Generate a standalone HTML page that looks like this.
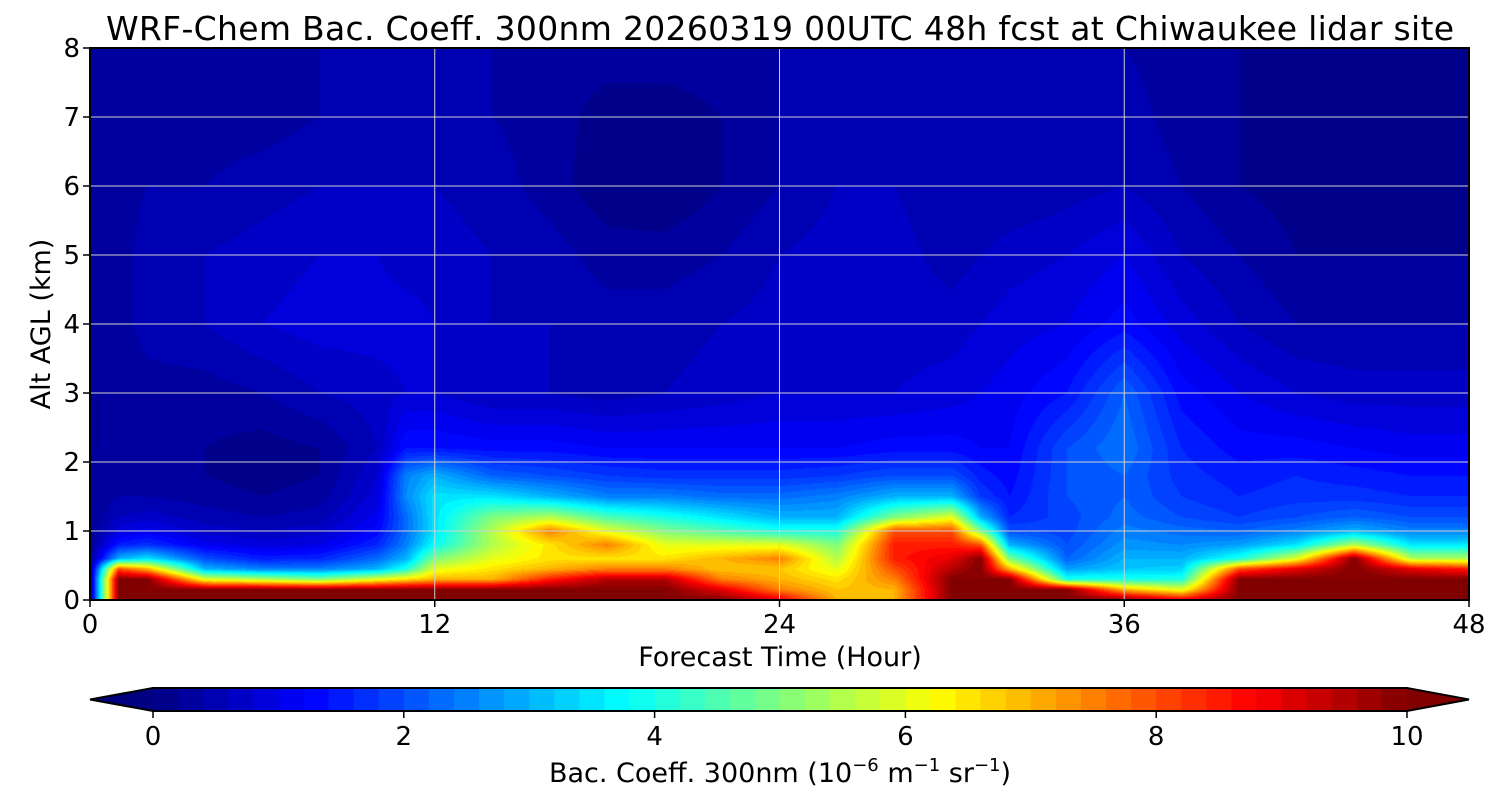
<!DOCTYPE html>
<html><head><meta charset="utf-8">
<style>
body{margin:0;background:#fff;width:1500px;height:800px;overflow:hidden;position:relative;font-family:"Liberation Sans","DejaVu Sans",sans-serif}
#plot{position:absolute;left:90px;top:48px}
#ov{position:absolute;left:0;top:0}
text{font-family:"DejaVu Sans","Liberation Sans",sans-serif;fill:#000}
</style></head><body>
<canvas id="plot" width="1379" height="552"></canvas>
<svg id="ov" width="1500" height="800">
<text x="780" y="40" font-size="33" text-anchor="middle" textLength="1348">WRF-Chem Bac. Coeff. 300nm  20260319 00UTC 48h fcst at Chiwaukee lidar site</text>
<g id="grid"></g>
<rect x="90" y="48" width="1379" height="552" fill="none" stroke="#000" stroke-width="2"/>
<g id="xt"></g>
<g id="yt"></g>
<text x="780" y="666" font-size="27" text-anchor="middle">Forecast Time (Hour)</text>
<text transform="translate(50,324) rotate(-90)" font-size="27" text-anchor="middle">Alt AGL (km)</text>
<g id="cb"></g>
<text x="780" y="782" font-size="27" text-anchor="middle">Bac. Coeff. 300nm  (10<tspan dy="-11" font-size="18">−6</tspan><tspan dy="11"> m</tspan><tspan dy="-11" font-size="18">−1</tspan><tspan dy="11"> sr</tspan><tspan dy="-11" font-size="18">−1</tspan><tspan dy="11">)</tspan></text>
</svg>
<script>
const times=[0,1,2,4,6,8,10,11,12,14,16,18,20,22,24,26,28,30,31,32,34,36,38,40,42,44,46,48];
const alts=[0,0.15,0.3,0.45,0.6,0.8,1.0,1.2,1.5,1.8,2.2,3,4,5,6,7,8];
const profiles=[
[0.2,0.2,0.2,0.2,0.2,0.2,0.2,0.2,0.2,0.2,0.2,0.2,0.2,0.2,0.2,0.2,0.2],
[10,10,10,8,3,1.5,0.9,0.6,0.4,0.3,0.2,0.2,0.3,0.3,0.3,0.3,0.3],
[10,10,10,7,3.5,1.7,1.1,0.7,0.4,0.3,0.2,0.3,0.5,0.5,0.4,0.4,0.4],
[10,10,6,3,2,1.1,0.7,0.5,0.3,0.2,0.2,0.3,0.6,0.6,0.4,0.3,0.3],
[10,10,5.5,2.5,1.5,0.9,0.6,0.4,0.2,0.1,0.1,0.4,0.8,0.7,0.5,0.3,0.3],
[10,10,5,2.5,1.6,1.0,0.7,0.5,0.3,0.2,0.2,0.6,0.9,0.8,0.6,0.4,0.4],
[10,10,6,3,2.3,1.6,1.3,1.1,0.9,0.8,0.6,0.7,0.9,0.8,0.6,0.5,0.5],
[10,10,6.5,4,3,2.5,2.3,2.3,2.6,2.5,1.4,0.8,0.9,0.7,0.6,0.5,0.5],
[10,10,7,6,5,3.8,3.5,3.5,3.5,3,1.4,0.8,0.8,0.7,0.6,0.5,0.5],
[10,10,7,6.5,6,5.5,5.5,5,3.5,2.2,1.3,0.6,0.6,0.6,0.5,0.4,0.4],
[10,10,8.5,7,6.5,6.5,7.5,5.5,3,2,1.3,0.6,0.6,0.5,0.3,0.3,0.3],
[10,10,9.5,7.5,6.5,7.5,6,4.5,2.5,1.8,1.2,0.5,0.5,0.3,0.05,0.1,0.3],
[10,10,9.5,7.5,6.5,6,5,4,2.5,1.7,1.2,0.6,0.5,0.3,0.0,0.1,0.3],
[10,9,7.5,6.8,7,6,4.5,3.5,2.3,1.7,1.2,0.7,0.6,0.4,0.2,0.2,0.3],
[9,7.5,7,6.8,7.5,6,4,3,2.3,1.7,1.2,0.8,0.7,0.6,0.4,0.4,0.4],
[7,6.8,6.5,6,5.5,5,4,3,2.5,1.8,1.2,0.8,0.7,0.7,0.6,0.5,0.5],
[7,7,7.5,8,8.5,8.5,8,5,3,2,1.3,0.8,0.7,0.7,0.6,0.5,0.5],
[10,10,10,9.5,9,8.5,8,6,3,2,1.3,0.9,0.7,0.5,0.4,0.4,0.4],
[10,10,10,10,10,8,5,3,1.8,1.5,1.2,1.0,0.8,0.6,0.4,0.4,0.4],
[10,10,10,7,5,3,2,1.6,1.4,1.3,1.2,1.1,0.9,0.7,0.4,0.4,0.4],
[10,10,4,2.8,2.2,2,1.9,1.9,2,2,2,1.4,1.0,0.8,0.5,0.4,0.4],
[10,7,4,3.2,3,2.7,2.5,2.3,2.2,2.2,2.4,2.2,1.3,1.0,0.6,0.5,0.4],
[9,6,4,3.3,3,2.6,2.3,2,1.8,1.7,1.6,1.3,0.9,0.6,0.4,0.3,0.3],
[10,10,10,8,4,2.8,2.2,1.8,1.6,1.5,1.3,1.0,0.6,0.4,0.2,0.2,0.2],
[10,10,10,9,6,3.5,2.5,2,1.7,1.6,1.3,0.8,0.4,0.2,0.1,0.1,0.1],
[10,10,10,10,10,5.5,3,2.2,1.7,1.5,1.2,0.7,0.4,0.2,0.1,0.1,0.1],
[10,10,10,9,5.5,3.5,2.5,2,1.6,1.4,1.1,0.7,0.4,0.2,0.1,0.1,0.1],
[10,10,10,8.5,5.5,3.5,2.5,2,1.6,1.4,1.1,0.7,0.4,0.2,0.1,0.1,0.1]
];
const xTicks=[0,12,24,36,48];
const yTicks=[0,1,2,3,4,5,6,7,8];
const cbTicks=[0,2,4,6,8,10];
const vmin=0,vmax=10,nLevels=50;

const PX=90,PY=48,PW=1379,PH=552;
const xs=h=>PX+h/48*PW, ys=k=>PY+PH-k/8*PH;
function jet(x){x=Math.max(0,Math.min(1,x));const c=v=>Math.round(255*Math.max(0,Math.min(1,v)));
 return [c(1.5-Math.abs(4*x-3)),c(1.5-Math.abs(4*x-2)),c(1.5-Math.abs(4*x-1))];}
function levelColor(v){let i=Math.floor((v-vmin)/(vmax-vmin)*nLevels);if(i>=nLevels)return [128,0,0];if(i<0)i=0;return jet((i+0.5)/nLevels);}
function idx(arr,v){let i=0;while(i<arr.length-2&&v>arr[i+1])i++;return [i,(v-arr[i])/(arr[i+1]-arr[i])];}
function val(h,k){const [i,fx]=idx(times,h),[j,fy]=idx(alts,k);
 const a=profiles[i][j],b=profiles[i+1][j],c=profiles[i][j+1],d=profiles[i+1][j+1];
 return (a*(1-fx)+b*fx)*(1-fy)+(c*(1-fx)+d*fx)*fy;}
const cv=document.getElementById('plot'),ctx=cv.getContext('2d'),img=ctx.createImageData(PW,PH);
for(let py=0;py<PH;py++){const k=(PH-py-0.5)/PH*8;for(let px=0;px<PW;px++){const h=(px+0.5)/PW*48;
 const col=levelColor(val(h,k));const o=(py*PW+px)*4;img.data[o]=col[0];img.data[o+1]=col[1];img.data[o+2]=col[2];img.data[o+3]=255;}}
ctx.putImageData(img,0,0);

const NS='http://www.w3.org/2000/svg';
function mk(tag,attrs,parent,txt){const e=document.createElementNS(NS,tag);for(const k in attrs)e.setAttribute(k,attrs[k]);if(txt!==undefined)e.textContent=txt;parent.appendChild(e);return e;}
const grid=document.getElementById('grid'),xt=document.getElementById('xt'),yt=document.getElementById('yt'),cb=document.getElementById('cb');
xTicks.forEach(t=>{const x=xs(t);
 if(t>0&&t<48){const l=mk('line',{x1:x,x2:x,y1:PY,y2:PY+PH,stroke:'#d0d0d0','stroke-width':1},grid);
 
 }
 mk('line',{x1:x,x2:x,y1:PY+PH,y2:PY+PH+7,stroke:'#000','stroke-width':1.5},xt);
 const tx=mk('text',{x:x,y:633,'font-size':26,'text-anchor':'middle'},xt,String(t));
 
 });
yTicks.forEach(t=>{const y=ys(t);
 if(t>0&&t<8){const l=mk('line',{x1:PX,x2:PX+PW,y1:y,y2:y,stroke:'#d0d0d0','stroke-width':1},grid);
 
 }
 mk('line',{x1:PX-7,x2:PX,y1:y,y2:y,stroke:'#000','stroke-width':1.5},yt);
 const tx=mk('text',{x:80,y:y+9,'font-size':26,'text-anchor':'end'},yt,String(t));
 
 });
const CX0=153,CX1=1407,CY=688,CH=23;const cx=v=>CX0+(v-vmin)/(vmax-vmin)*(CX1-CX0);
for(let i=0;i<nLevels;i++){const v0=vmin+i*(vmax-vmin)/nLevels,v1=vmin+(i+1)*(vmax-vmin)/nLevels;const c=jet((i+0.5)/nLevels);
 const r=mk('rect',{x:cx(v0),y:CY,width:cx(v1)-cx(v0)+0.6,height:CH,fill:`rgb(${c})`},cb);
 
 }
const lo=jet(0),hi=[128,0,0];
const t1=mk('polygon',{points:`${CX0},${CY} 90,${CY+CH/2} ${CX0},${CY+CH}`,fill:`rgb(${lo})`},cb);


const t2=mk('polygon',{points:`${CX1},${CY} 1469,${CY+CH/2} ${CX1},${CY+CH}`,fill:`rgb(${hi})`},cb);


mk('polygon',{points:`${CX0},${CY} 90,${CY+CH/2} ${CX0},${CY+CH} ${CX1},${CY+CH} 1469,${CY+CH/2} ${CX1},${CY}`,fill:'none',stroke:'#000','stroke-width':2},cb);
cbTicks.forEach(t=>{const x=cx(t);mk('line',{x1:x,x2:x,y1:CY+CH,y2:CY+CH+7,stroke:'#000','stroke-width':1.5},cb);
 const tx=mk('text',{x:x,y:745,'font-size':26,'text-anchor':'middle'},cb,String(t));
 
 });
</script>
</body></html>
